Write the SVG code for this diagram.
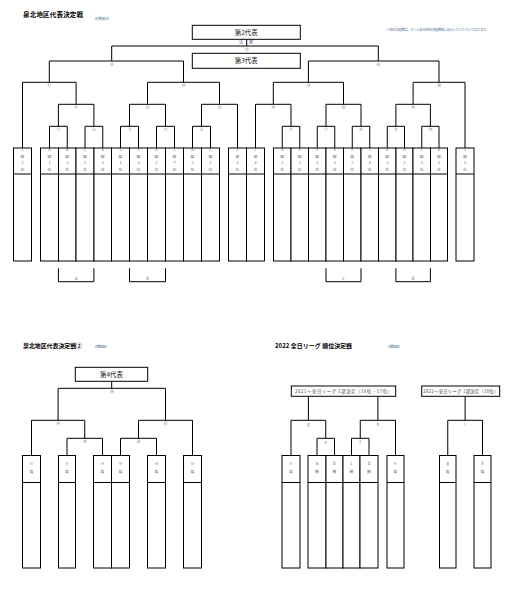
<svg xmlns="http://www.w3.org/2000/svg" width="523" height="604" viewBox="0 0 523 604">
<style>
.ln{fill:none;stroke:#000;stroke-width:1}
.bx{fill:#fff;stroke:#000;stroke-width:1}
text{font-family:"Noto Sans CJK JP","Noto Sans",sans-serif;text-anchor:middle}
.t{font-size:3.8px;fill:#5b6478}
.lb{font-size:4px;fill:#5a6a8a}
.ttl{font-size:6.5px;font-weight:bold;fill:#000;text-anchor:start}
.sm{font-size:3.4px;fill:#5570a0;text-anchor:start}
.bt{font-size:6.5px;fill:#222}
.bt2{font-size:4.2px;fill:#333}
</style>
<rect width="523" height="604" fill="#fff"/>
<g id="titles">
<text class="ttl" x="23" y="17" textLength="60">泉北地区代表決定戦</text>
<text class="sm" x="95" y="19.5" textLength="14">対戦組合</text>
<text class="sm" x="386" y="30.5" textLength="103" fill="#556">※ 順位決定戦は、チーム名を順位決定戦後に記入していただいております。</text>
<text class="ttl" x="23" y="348" textLength="59" style="font-size:5.9px">泉北地区代表決定戦②</text>
<text class="sm" x="95" y="347.5" textLength="12">対戦組合</text>
<text class="ttl" x="275" y="348" textLength="77" style="font-size:5.9px">2022 全日リーグ 順位決定戦</text>
<text class="sm" x="388" y="347.5" textLength="12">対戦組合</text>
</g>
<g id="connectors">
<path class="ln" d="M111.7,61 V46 H378.3 V61 M246.7,39.3 V46"/>
<path class="ln" d="M49.3,82.3 V61 H183.5 V82.3"/>
<path class="ln" d="M22.5,148 V82.3 H76.1 V104.3 M147.5,104.3 V82.3 H219.5 V104.3"/>
<path class="ln" d="M58.4,126.3 V104.3 H93.9 V126.3 M129.5,126.3 V104.3 H165.5 V126.3 M201.5,126.3 V104.3 H237.5 V148"/>
<path class="ln" d="M49.5,148 V126.3 H67.25 V148 M85,148 V126.3 H102.75 V148 M120.5,148 V126.3 H138.5 V148 M156.5,148 V126.3 H174.5 V148 M192.5,148 V126.3 H210.5 V148"/>
<path class="ln" d="M308.4,82.3 V61 H439 V82.3"/>
<path class="ln" d="M273.3,104.3 V82.3 H343.5 V104.3 M413.1,104.3 V82.3 H465 V148"/>
<path class="ln" d="M255.5,148 V104.3 H291 V126.3 M326,126.3 V104.3 H361 V126.3 M395.9,126.3 V104.3 H430.4 V126.3"/>
<path class="ln" d="M282.25,148 V126.3 H299.75 V148 M317.25,148 V126.3 H334.75 V148 M352.25,148 V126.3 H369.75 V148 M387.25,148 V126.3 H404.5 V148 M421.75,148 V126.3 H439 V148"/>
<path class="ln" d="M58.4,268.3 V281.7 H93.9 V268.3 M129.5,268.3 V281.7 H165.5 V268.3 M326,268.3 V281.7 H361 V268.3 M395.9,268.3 V281.7 H430.4 V268.3"/>
<path class="ln" d="M111.7,381.3 V388.3 M58.1,420.3 V388.3 H165.5 V420.3 M31.5,455.5 V420.3 H84.75 V438.3 M67,455.5 V438.3 H102.5 V455.5 M138.5,438.3 V420.3 H192.5 V455.5 M120.5,455.5 V438.3 H156.5 V455.5"/>
<path class="ln" d="M308.4,396.3 V420.3 M377.9,396.3 V420.3 M291,455.5 V420.3 H325.75 V438.3 M360.25,438.3 V420.3 H395.5 V455.5 M317,455.5 V438.3 H334.5 V455.5 M351.5,455.5 V438.3 H369 V455.5 M465.1,396.3 V420.3 M447.75,455.5 V420.3 H482.5 V455.5"/>
</g>
<g id="match-labels" class="lb">
<text x="241" y="44">決</text><text x="251" y="44">勝</text>
<text x="246.7" y="50.5">㉓</text>
<text x="111.7" y="66">㉑</text><text x="378.3" y="66">㉒</text>
<text x="49.3" y="87.3">⑰</text><text x="183.5" y="87.3">⑱</text><text x="308.4" y="87.3">⑲</text><text x="439" y="87.3">⑳</text>
<text x="76.1" y="109.3">⑪</text><text x="147.5" y="109.3">⑫</text><text x="219.5" y="109.3">⑬</text>
<text x="273.3" y="109.3">⑭</text><text x="343.5" y="109.3">⑮</text><text x="413.1" y="109.3">⑯</text>
<text x="58.4" y="131.3">①</text><text x="93.9" y="131.3">②</text><text x="129.5" y="131.3">③</text><text x="165.5" y="131.3">④</text><text x="201.5" y="131.3">⑤</text>
<text x="291" y="131.3">⑥</text><text x="326" y="131.3">⑦</text><text x="361" y="131.3">⑧</text><text x="395.9" y="131.3">⑨</text><text x="430.4" y="131.3">⑩</text>
<text x="76.2" y="279.8">a</text><text x="147.5" y="279.8">b</text><text x="343.5" y="279.8">c</text><text x="413.1" y="279.8">d</text>
<text x="111.7" y="393.3">㉘</text>
<text x="58.1" y="425.3">㉖</text><text x="165.5" y="425.3">㉗</text>
<text x="84.75" y="443.3">㉔</text><text x="138.5" y="443.3">㉕</text>
<text x="308.4" y="425.8">g</text><text x="377.9" y="425.8">h</text><text x="465.1" y="425.8">i</text>
<text x="325.75" y="443.5">e</text><text x="360.25" y="443.5">f</text>
</g>
<g id="rep2"><rect class="bx" x="192.3" y="25.3" width="108" height="14"/><text class="bt" x="246.3" y="34.6">第2代表</text></g>
<g id="rep3"><rect class="bx" x="192.3" y="53.3" width="108" height="15"/><text class="bt" x="246.3" y="63.1">第3代表</text></g>
<g id="rep4"><rect class="bx" x="75.3" y="367.3" width="72.4" height="14"/><text class="bt" x="111.5" y="376.6">第4代表</text></g>
<g id="league1"><rect class="bx" x="291.3" y="386" width="104.4" height="10.3"/><text class="bt2" x="343.5" y="392.6" textLength="97">2021～全日リーグ 1部決定（16位・17位）</text></g>
<g id="league2"><rect class="bx" x="421.7" y="386" width="78" height="10.3"/><text class="bt2" x="460.7" y="392.6" textLength="75">2021～全日リーグ 1部決定（18位）</text></g>
<g id="teams-top" class="t">
<g id="t1"><rect class="bx" x="13.5" y="148" width="18" height="113"/><path class="ln" d="M13.5,174 H31.5"/><text x="22.5" y="151.4">1</text><text x="22.5" y="157.7">部</text><text x="22.5" y="164.4">2</text><text x="22.5" y="171.4">位</text></g>
<g id="t2"><rect class="bx" x="40.5" y="148" width="18" height="113"/><path class="ln" d="M40.5,174 H58.5"/><text x="49.5" y="151.4">A</text><text x="49.5" y="157.7">組</text><text x="49.5" y="164.4">1</text><text x="49.5" y="171.4">位</text></g>
<g id="t3"><rect class="bx" x="58.5" y="148" width="17.5" height="113"/><path class="ln" d="M58.5,174 H76"/><text x="67.25" y="151.4">B</text><text x="67.25" y="157.7">組</text><text x="67.25" y="164.4">3</text><text x="67.25" y="171.4">位</text></g>
<g id="t4"><rect class="bx" x="76" y="148" width="18" height="113"/><path class="ln" d="M76,174 H94"/><text x="85" y="151.4">C</text><text x="85" y="157.7">組</text><text x="85" y="164.4">1</text><text x="85" y="171.4">位</text></g>
<g id="t5"><rect class="bx" x="94" y="148" width="17.5" height="113"/><path class="ln" d="M94,174 H111.5"/><text x="102.75" y="151.4">D</text><text x="102.75" y="157.7">組</text><text x="102.75" y="164.4">3</text><text x="102.75" y="171.4">位</text></g>
<g id="t6"><rect class="bx" x="111.5" y="148" width="18" height="113"/><path class="ln" d="M111.5,174 H129.5"/><text x="120.5" y="151.4">E</text><text x="120.5" y="157.7">組</text><text x="120.5" y="164.4">1</text><text x="120.5" y="171.4">位</text></g>
<g id="t7"><rect class="bx" x="129.5" y="148" width="18" height="113"/><path class="ln" d="M129.5,174 H147.5"/><text x="138.5" y="151.4">F</text><text x="138.5" y="157.7">組</text><text x="138.5" y="164.4">3</text><text x="138.5" y="171.4">位</text></g>
<g id="t8"><rect class="bx" x="147.5" y="148" width="18" height="113"/><path class="ln" d="M147.5,174 H165.5"/><text x="156.5" y="151.4">A</text><text x="156.5" y="157.7">組</text><text x="156.5" y="164.4">2</text><text x="156.5" y="171.4">位</text></g>
<g id="t9"><rect class="bx" x="165.5" y="148" width="18" height="113"/><path class="ln" d="M165.5,174 H183.5"/><text x="174.5" y="151.4">1</text><text x="174.5" y="157.7">部</text><text x="174.5" y="164.4">7</text><text x="174.5" y="171.4">位</text></g>
<g id="t10"><rect class="bx" x="183.5" y="148" width="18" height="113"/><path class="ln" d="M183.5,174 H201.5"/><text x="192.5" y="151.4">B</text><text x="192.5" y="157.7">組</text><text x="192.5" y="164.4">2</text><text x="192.5" y="171.4">位</text></g>
<g id="t11"><rect class="bx" x="201.5" y="148" width="18" height="113"/><path class="ln" d="M201.5,174 H219.5"/><text x="210.5" y="151.4">C</text><text x="210.5" y="157.7">組</text><text x="210.5" y="164.4">2</text><text x="210.5" y="171.4">位</text></g>
<g id="t12"><rect class="bx" x="228.5" y="148" width="18" height="113"/><path class="ln" d="M228.5,174 H246.5"/><text x="237.5" y="151.4">1</text><text x="237.5" y="157.7">部</text><text x="237.5" y="164.4">5</text><text x="237.5" y="171.4">位</text></g>
<g id="t13"><rect class="bx" x="246.5" y="148" width="18" height="113"/><path class="ln" d="M246.5,174 H264.5"/><text x="255.5" y="151.4">1</text><text x="255.5" y="157.7">部</text><text x="255.5" y="164.4">4</text><text x="255.5" y="171.4">位</text></g>
<g id="t14"><rect class="bx" x="273.5" y="148" width="17.5" height="113"/><path class="ln" d="M273.5,174 H291"/><text x="282.25" y="151.4">D</text><text x="282.25" y="157.7">組</text><text x="282.25" y="164.4">2</text><text x="282.25" y="171.4">位</text></g>
<g id="t15"><rect class="bx" x="291" y="148" width="17.5" height="113"/><path class="ln" d="M291,174 H308.5"/><text x="299.75" y="151.4">E</text><text x="299.75" y="157.7">組</text><text x="299.75" y="164.4">2</text><text x="299.75" y="171.4">位</text></g>
<g id="t16"><rect class="bx" x="308.5" y="148" width="17.5" height="113"/><path class="ln" d="M308.5,174 H326"/><text x="317.25" y="151.4">F</text><text x="317.25" y="157.7">組</text><text x="317.25" y="164.4">1</text><text x="317.25" y="171.4">位</text></g>
<g id="t17"><rect class="bx" x="326" y="148" width="17.5" height="113"/><path class="ln" d="M326,174 H343.5"/><text x="334.75" y="151.4">A</text><text x="334.75" y="157.7">組</text><text x="334.75" y="164.4">3</text><text x="334.75" y="171.4">位</text></g>
<g id="t18"><rect class="bx" x="343.5" y="148" width="17.5" height="113"/><path class="ln" d="M343.5,174 H361"/><text x="352.25" y="151.4">F</text><text x="352.25" y="157.7">組</text><text x="352.25" y="164.4">2</text><text x="352.25" y="171.4">位</text></g>
<g id="t19"><rect class="bx" x="361" y="148" width="17.5" height="113"/><path class="ln" d="M361,174 H378.5"/><text x="369.75" y="151.4">1</text><text x="369.75" y="157.7">部</text><text x="369.75" y="164.4">6</text><text x="369.75" y="171.4">位</text></g>
<g id="t20"><rect class="bx" x="378.5" y="148" width="17.5" height="113"/><path class="ln" d="M378.5,174 H396"/><text x="387.25" y="151.4">E</text><text x="387.25" y="157.7">組</text><text x="387.25" y="164.4">3</text><text x="387.25" y="171.4">位</text></g>
<g id="t21"><rect class="bx" x="396" y="148" width="17" height="113"/><path class="ln" d="M396,174 H413"/><text x="404.5" y="151.4">D</text><text x="404.5" y="157.7">組</text><text x="404.5" y="164.4">1</text><text x="404.5" y="171.4">位</text></g>
<g id="t22"><rect class="bx" x="413" y="148" width="17.5" height="113"/><path class="ln" d="M413,174 H430.5"/><text x="421.75" y="151.4">C</text><text x="421.75" y="157.7">組</text><text x="421.75" y="164.4">3</text><text x="421.75" y="171.4">位</text></g>
<g id="t23"><rect class="bx" x="430.5" y="148" width="17" height="113"/><path class="ln" d="M430.5,174 H447.5"/><text x="439" y="151.4">B</text><text x="439" y="157.7">組</text><text x="439" y="164.4">1</text><text x="439" y="171.4">位</text></g>
<g id="t24"><rect class="bx" x="456" y="148" width="18" height="113"/><path class="ln" d="M456,174 H474"/><text x="465" y="151.4">1</text><text x="465" y="157.7">部</text><text x="465" y="164.4">3</text><text x="465" y="171.4">位</text></g>
</g>
<g id="teams-bottom-left" class="t">
<g id="b1"><rect class="bx" x="22.5" y="455.5" width="18" height="112.5"/><path class="ln" d="M22.5,482.5 H40.5"/><text x="31.5" y="464.7">㉑</text><text x="31.5" y="473.4">負</text></g>
<g id="b2"><rect class="bx" x="58.5" y="455.5" width="17" height="112.5"/><path class="ln" d="M58.5,482.5 H75.5"/><text x="67" y="464.7">⑰</text><text x="67" y="473.4">負</text></g>
<g id="b3"><rect class="bx" x="93.5" y="455.5" width="18" height="112.5"/><path class="ln" d="M93.5,482.5 H111.5"/><text x="102.5" y="464.7">⑱</text><text x="102.5" y="473.4">負</text></g>
<g id="b4"><rect class="bx" x="111.5" y="455.5" width="18" height="112.5"/><path class="ln" d="M111.5,482.5 H129.5"/><text x="120.5" y="464.7">⑲</text><text x="120.5" y="473.4">負</text></g>
<g id="b5"><rect class="bx" x="147.5" y="455.5" width="18" height="112.5"/><path class="ln" d="M147.5,482.5 H165.5"/><text x="156.5" y="464.7">⑳</text><text x="156.5" y="473.4">負</text></g>
<g id="b6"><rect class="bx" x="183.5" y="455.5" width="18" height="112.5"/><path class="ln" d="M183.5,482.5 H201.5"/><text x="192.5" y="464.7">㉒</text><text x="192.5" y="473.4">負</text></g>
</g>
<g id="teams-bottom-right" class="t">
<g id="r1"><rect class="bx" x="282" y="455.5" width="18" height="112.5"/><path class="ln" d="M282,482.5 H300"/><text x="291" y="464.7">⑤</text><text x="291" y="473.4">負</text></g>
<g id="r2"><rect class="bx" x="308" y="455.5" width="18" height="112.5"/><path class="ln" d="M308,482.5 H326"/><text x="317" y="464.7">a</text><text x="317" y="473.4">勝</text></g>
<g id="r3"><rect class="bx" x="326" y="455.5" width="17" height="112.5"/><path class="ln" d="M326,482.5 H343"/><text x="334.5" y="464.7">b</text><text x="334.5" y="473.4">勝</text></g>
<g id="r4"><rect class="bx" x="343" y="455.5" width="17" height="112.5"/><path class="ln" d="M343,482.5 H360"/><text x="351.5" y="464.7">c</text><text x="351.5" y="473.4">勝</text></g>
<g id="r5"><rect class="bx" x="360" y="455.5" width="18" height="112.5"/><path class="ln" d="M360,482.5 H378"/><text x="369" y="464.7">d</text><text x="369" y="473.4">勝</text></g>
<g id="r6"><rect class="bx" x="387" y="455.5" width="17" height="112.5"/><path class="ln" d="M387,482.5 H404"/><text x="395.5" y="464.7">⑥</text><text x="395.5" y="473.4">負</text></g>
<g id="r7"><rect class="bx" x="439.5" y="455.5" width="16.5" height="112.5"/><path class="ln" d="M439.5,482.5 H456"/><text x="447.75" y="464.7">g</text><text x="447.75" y="473.4">負</text></g>
<g id="r8"><rect class="bx" x="474" y="455.5" width="17" height="112.5"/><path class="ln" d="M474,482.5 H491"/><text x="482.5" y="464.7">h</text><text x="482.5" y="473.4">負</text></g>
</g>
</svg>
